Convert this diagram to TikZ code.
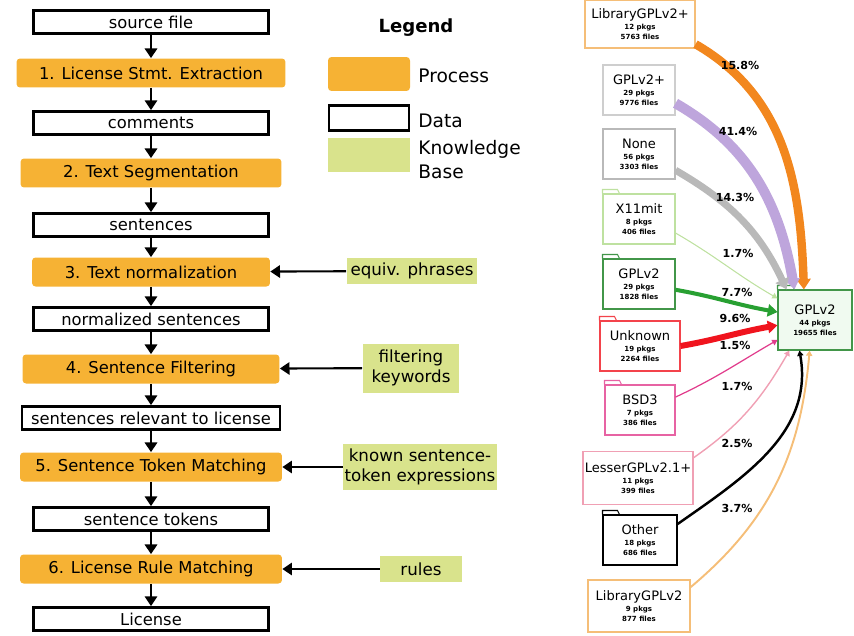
\documentclass[tikz,border=0pt]{standalone}
\usepackage{fontspec}
\setmainfont{DejaVu Sans}
\usepackage{tikz}
\usetikzlibrary{arrows.meta}
\usetikzlibrary{positioning}
\definecolor{procorange}{RGB}{246,178,52}
\definecolor{kbgreen}{RGB}{217,227,140}
\definecolor{eorange}{RGB}{242,135,30}
\definecolor{epurple}{RGB}{190,165,220}
\definecolor{egray}{RGB}{185,185,185}
\definecolor{ex11}{RGB}{190,225,160}
\definecolor{egreen}{RGB}{40,160,50}
\definecolor{ered}{RGB}{240,20,30}
\definecolor{ebsd}{RGB}{225,60,140}
\definecolor{elesser}{RGB}{240,160,180}
\definecolor{elib}{RGB}{245,190,120}
\definecolor{targetfill}{RGB}{240,250,240}
\newcommand{\lic}[3]{#1\\[-2pt]{\fontsize{4}{4.5}\selectfont\bfseries #2 pkgs}\\[-3pt]{\fontsize{4}{4.5}\selectfont\bfseries #3 files}}

\begin{document}
\begin{tikzpicture}[x=0.02cm,y=-0.02cm]
  \tikzset{data/.style = {shape=rectangle,draw,line width=1.6pt,minimum width=4.7cm,minimum height=0.46cm,inner sep=1pt,font=\fontsize{9.3}{11}\selectfont}}
  \tikzset{proc/.style = {shape=rectangle,fill=procorange,rounded corners=2pt,minimum height=0.58cm,inner sep=1pt,font=\fontsize{9.3}{11}\selectfont}}
  \tikzset{kb/.style = {shape=rectangle,fill=kbgreen,minimum height=0.52cm,inner sep=1pt,align=center,font=\fontsize{9.5}{11.5}\selectfont}}
  \tikzset{lnode/.style = {shape=rectangle,draw,fill=white,line width=0.6pt,minimum width=1.44cm,minimum height=1cm,inner sep=1pt,align=center,font=\fontsize{7.4}{8.4}\selectfont}}
  \tikzset{pct/.style = {font=\fontsize{6.3}{7}\selectfont\bfseries,inner sep=0pt}}
  \tikzset{%
  tipA/.tip={Triangle[width=7pt,length=5.5pt]},
  tipB/.tip={Triangle[width=8pt,length=6pt]},
  tipC/.tip={Triangle[width=3.5pt,length=3pt]},
  }

  \useasboundingbox (0,0) rectangle (854,635);

  % pipeline
  \node[data] (src) at (151,22) {source file};
  \node[proc,minimum width=5.38cm] (p1) at (151,73) {1. License Stmt. Extraction};
  \node[data] (com) at (151,123) {comments};
  \node[proc,minimum width=5.22cm] (p2) at (151,173) {2. Text Segmentation};
  \node[data] (sen) at (151,225) {sentences};
  \node[proc,minimum width=4.76cm] (p3) at (151,272) {3. Text normalization};
  \node[data] (nsen) at (151,319) {normalized sentences};
  \node[proc,minimum width=5.14cm] (p4) at (151,369) {4. Sentence Filtering};
  \node[data,minimum width=5.16cm] (rsen) at (151,418) {sentences relevant to license};
  \node[proc,minimum width=5.24cm] (p5) at (151,467) {5. Sentence Token Matching};
  \node[data] (tok) at (151,519) {sentence tokens};
  \node[proc,minimum width=5.24cm] (p6) at (151,569) {6. License Rule Matching};
  \node[data] (lic) at (151,619) {License};

  \node[kb,minimum width=2.62cm] (kb3) at (412,271) {equiv. phrases};
  \node[kb,minimum width=1.94cm,minimum height=0.98cm] (kb4) at (411,368) {filtering\\keywords};
  \node[kb,minimum width=3.08cm,minimum height=0.92cm] (kb5) at (420,467) {known sentence-\\token expressions};
  \node[kb,minimum width=1.64cm] (kb6) at (421,569) {rules};

  \foreach \from/\to in {src/p1, p1/com, com/p2, p2/sen, sen/p3, p3/nsen, nsen/p4, p4/rsen, rsen/p5, p5/tok, tok/p6, p6/lic}
  \path[-tipA,line width=1.2pt](\from.south) edge (\to.north);

  \foreach \from/\to in {kb3/p3, kb4/p4, kb5/p5, kb6/p6}
  \path[-tipA,line width=1.2pt](\from) edge (\to);

  % legend
  \node[font=\fontsize{10.3}{12}\selectfont\bfseries] (legend) at (416,28) {Legend};
  \node[proc,minimum width=1.64cm,minimum height=0.68cm] (lproc) at (369,74) {};
  \node[anchor=west,font=\fontsize{10.6}{12}\selectfont,inner sep=0pt] (lproct) at (418,76) {Process};
  \node[data,minimum width=1.6cm,minimum height=0.5cm] (ldata) at (369,118) {};
  \node[anchor=west,font=\fontsize{10.6}{12}\selectfont,inner sep=0pt] (ldatat) at (418,121) {Data};
  \node[kb,minimum width=1.64cm,minimum height=0.7cm] (lkb) at (369,155) {};
  \node[anchor=west,align=left,font=\fontsize{10.6}{13.6}\selectfont,inner sep=0pt] (lkbt) at (418,160) {Knowledge\\Base};

  % license flows
  \node[lnode,draw=elib,minimum width=2.2cm,minimum height=0.96cm] (libgplp) at (640,24) {\lic{LibraryGPLv2+}{12}{5763}};
  \node[lnode,draw=egray!70] (gplp) at (639,90) {\lic{GPLv2+}{29}{9776}};
  \node[lnode,draw=egray] (none) at (639,154) {\lic{None}{56}{3303}};
  \node[lnode,draw=ex11] (x11) at (639,219) {\lic{X11mit}{8}{406}};
  \node[lnode,draw=egreen!70!gray] (gpl) at (639,284) {\lic{GPLv2}{29}{1828}};
  \node[lnode,draw=ered!80,minimum width=1.6cm] (unk) at (640,346) {\lic{Unknown}{19}{2264}};
  \node[lnode,draw=ebsd!80,minimum width=1.4cm] (bsd) at (640,410) {\lic{BSD3}{7}{386}};
  \node[lnode,draw=elesser,minimum width=2.2cm,minimum height=1.06cm] (lgpl) at (638,478) {\lic{LesserGPLv2.1+}{11}{399}};
  \node[lnode,draw=black,minimum width=1.48cm] (other) at (640,540) {\lic{Other}{18}{686}};
  \node[lnode,draw=elib,minimum width=2.04cm,minimum height=1.04cm] (libgpl) at (639,606) {\lic{LibraryGPLv2}{9}{877}};
  \node[lnode,draw=egreen!70!gray,fill=targetfill,minimum width=1.48cm,minimum height=1.2cm] (target) at (815,320) {\lic{GPLv2}{44}{19655}};

  \foreach \n/\c in {x11/ex11, gpl/egreen!70!gray, unk/ered!80, bsd/ebsd!80, other/black, target/egreen!70!gray}
  \draw[\c,line width=0.6pt] (\n.north west) -- ++(0,0.08cm) -- ++(0.3cm,0) -- ++(0.04cm,-0.08cm);

  \foreach \from/\fa/\ta/\o/\i/\c/\w/\t in {
    libgplp/340/110/-30/92/eorange/4.8pt/tipB,
    gplp/340/124/-30/100/epurple/5.7pt/tipB,
    none/336/133/-30/115/egray/4pt/tipB,
    x11/339/150/-30/150/ex11/0.6pt/tipC,
    gpl/351/168/-10/170/egreen/2.3pt/tipA,
    unk/0/188/10/190/ered/3.4pt/tipA,
    bsd/20/208/25/210/ebsd/0.7pt/tipC,
    lgpl/20/230/35/-120/elesser/0.8pt/tipC,
    other/23/243/35/-80/black/1.4pt/tipC,
    libgpl/20/260/40/-95/elib/1.1pt/tipC}
  \draw[-\t,draw=\c,line width=\w] (\from.\fa) to[out=\o,in=\i] (target.\ta);

  \node[pct] (c1) at (740,65) {15.8\%};
  \node[pct] (c2) at (738,131) {41.4\%};
  \node[pct] (c3) at (735,197) {14.3\%};
  \node[pct] (c4) at (738,253) {1.7\%};
  \node[pct] (c5) at (737,292) {7.7\%};
  \node[pct] (c6) at (735,318) {9.6\%};
  \node[pct] (c7) at (735,345) {1.5\%};
  \node[pct] (c8) at (737,386) {1.7\%};
  \node[pct] (c9) at (737,443) {2.5\%};
  \node[pct] (c10) at (737,508) {3.7\%};

\end{tikzpicture}
\end{document}
